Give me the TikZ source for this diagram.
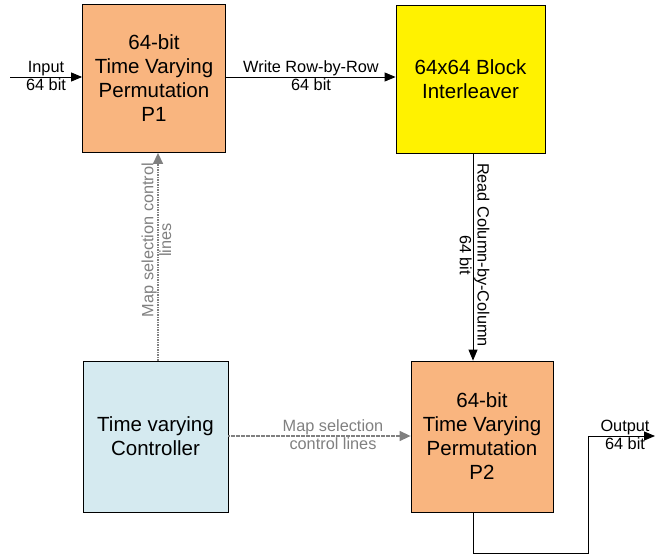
\documentclass[tikz,border=0pt]{standalone}
\usepackage{fontspec}
\setmainfont{Liberation Sans}
\usetikzlibrary{arrows.meta}
\definecolor{permfill}{RGB}{249,181,127}
\definecolor{ctrlfill}{RGB}{213,234,240}
\definecolor{ctrlline}{RGB}{128,128,128}
\begin{document}
\begin{tikzpicture}[x=1pt,y=-1pt,
  blk/.style={draw=black, line width=0.8pt, minimum width=143pt, minimum height=148pt,
    align=center, font=\fontsize{20.5}{24}\selectfont, inner sep=0pt},
  lbl/.style={font=\fontsize{16.3}{18}\selectfont, inner sep=1pt},
  dataflow/.style={draw=black, line width=0.9pt, -{Triangle[length=11pt,width=9pt]}},
  ctrlflow/.style={draw=ctrlline, line width=1.4pt, dash pattern=on 1.6pt off 0.9pt,
    -{Triangle[length=11pt,width=10pt]}}]
\useasboundingbox (0,0) rectangle (655,557);

% blocks
\node[blk, fill=permfill] (p1) at (154,78.5) {64-bit\\Time Varying\\Permutation\\P1};
\node[blk, fill=yellow, minimum width=149pt] (il) at (470.5,79) {64x64 Block\\Interleaver};
\node[blk, fill=ctrlfill, minimum width=145pt, minimum height=151pt] (ctl) at (155.5,436.5) {Time varying\\Controller};
\node[blk, fill=permfill, minimum width=142pt, minimum height=151pt] (p2) at (482,436.5) {64-bit\\Time Varying\\Permutation\\P2};

% free ends of the input and output lines
\coordinate (in) at (10,77);
\coordinate (out) at (655,436);
\coordinate (c1) at (473,553);
\coordinate (c2) at (588,553);
\coordinate (c3) at (588,436);

% data path
\draw[dataflow] (in) -- (in -| p1.west);
\node[lbl, above] at (46,77) {Input};
\node[lbl, below] at (46,77) {64 bit};

\draw[dataflow] (p1.east |- 0,77) -- (il.west |- 0,77);
\node[lbl, above] at (311,77) {Write Row-by-Row};
\node[lbl, below] at (311,77) {64 bit};

\draw[dataflow] (473,0 |- il.south) -- (473,0 |- p2.north);
\node[lbl, rotate=-90, anchor=south] at (473,255) {Read Column-by-Column};
\node[lbl, rotate=-90, anchor=north] at (473,255) {64 bit};

\draw[line width=0.9pt] (473,0 |- p2.south) -- (c1) -- (c2) -- (c3) -- (c3 -| 640,0);
\draw[dataflow] (c3) -- (out);
\node[lbl, above] at (625,436) {Output};
\node[lbl, below] at (625,436) {64 bit};

% control lines
\draw[ctrlflow] (158,0 |- ctl.north) -- (158,0 |- p1.south);
\node[lbl, text=ctrlline, rotate=90, anchor=south] at (158,240) {Map selection control};
\node[lbl, text=ctrlline, rotate=90, anchor=north] at (158,240) {lines};

\draw[ctrlflow] (ctl.east |- 0,436) -- (p2.west |- 0,436);
\node[lbl, text=ctrlline, above] at (333,436) {Map selection};
\node[lbl, text=ctrlline, below] at (333,436) {control lines};
\end{tikzpicture}
\end{document}
